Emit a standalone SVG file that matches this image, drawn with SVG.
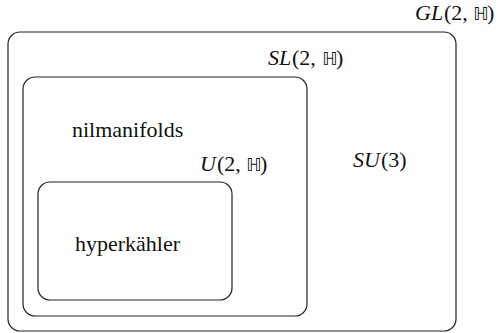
<svg xmlns="http://www.w3.org/2000/svg" width="502" height="333" viewBox="0 0 502 333">
  <rect x="0" y="0" width="502" height="333" fill="#fff"/>

  <!-- nested set boxes share one outline look -->
  <g fill="none" stroke="#222" stroke-width="1.2">
    <rect id="gl2h-box" x="8" y="32" width="448" height="299" rx="12" ry="12"/>
    <rect id="sl2h-box" x="23" y="77" width="284" height="239" rx="12" ry="12"/>
    <rect id="hk-box" x="38" y="182" width="194" height="118" rx="12" ry="12"/>
  </g>

  <!-- GL(2,H): outermost region -->
  <g id="gl2h" fill="#111">
    <text font-family="Liberation Serif" font-style="italic" font-size="22" x="415" y="20">GL</text>
    <text font-family="Liberation Serif" font-size="22" x="444" y="20">(2,</text>
    <text font-family="DejaVu Sans" font-size="18" x="473" y="20">&#x210D;</text>
    <text font-family="Liberation Serif" font-size="22" x="487" y="20">)</text>
    <text font-family="Liberation Serif" font-style="italic" font-size="22" x="353" y="167">SU</text>
    <text font-family="Liberation Serif" font-size="22" x="381" y="167">(3)</text>
  </g>

  <!-- SL(2,H) -->
  <g id="sl2h" fill="#111">
    <text font-family="Liberation Serif" font-style="italic" font-size="22" x="268" y="65">SL</text>
    <text font-family="Liberation Serif" font-size="22" x="292" y="65">(2,</text>
    <text font-family="DejaVu Sans" font-size="18" x="322" y="65">&#x210D;</text>
    <text font-family="Liberation Serif" font-size="22" x="336" y="65">)</text>
    <text font-family="Liberation Serif" font-size="22" x="72" y="137">nilmanifolds</text>
  </g>

  <!-- U(2,H) -->
  <g id="u2h" fill="#111">
    <text font-family="Liberation Serif" font-style="italic" font-size="22" x="200" y="171">U</text>
    <text font-family="Liberation Serif" font-size="22" x="217" y="171">(2,</text>
    <text font-family="DejaVu Sans" font-size="18" x="246" y="171">&#x210D;</text>
    <text font-family="Liberation Serif" font-size="22" x="260" y="171">)</text>
  </g>

  <!-- hyperkaehler -->
  <g id="hyperkahler" fill="#111">
    <text font-family="Liberation Serif" font-size="22" x="75" y="251">hyperk&#xE4;hler</text>
  </g>
</svg>
